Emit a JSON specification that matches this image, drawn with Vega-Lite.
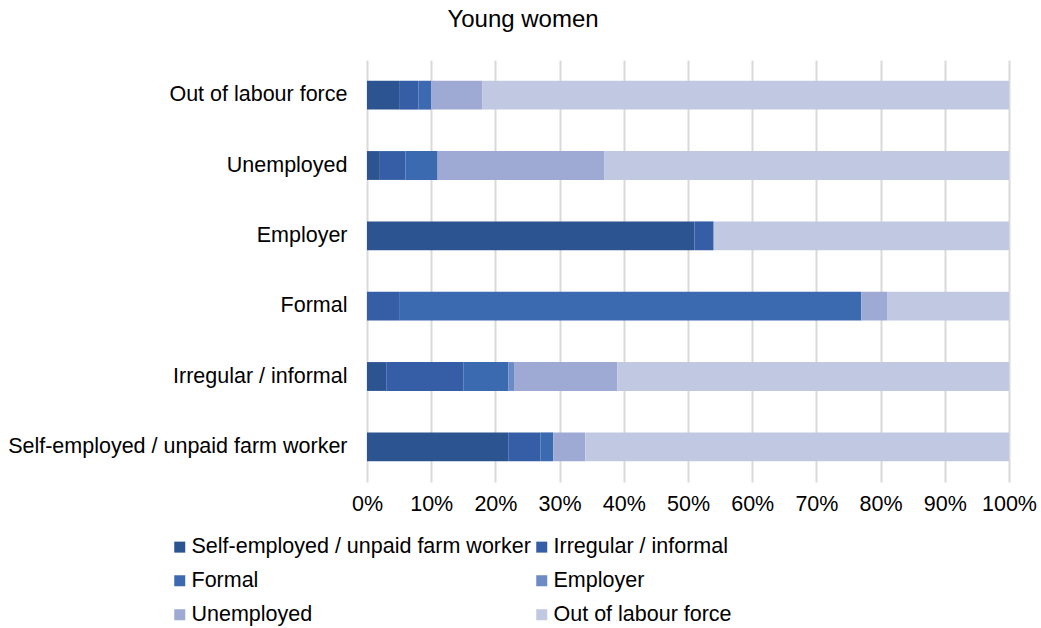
{
  "$schema": "https://vega.github.io/schema/vega-lite/v6.json",
  "autosize": {"type": "none"},
  "width": 642,
  "height": 422,
  "padding": {"left": 367, "top": 60, "right": 32, "bottom": 146},
  "background": "white",
  "title": {
    "text": "Young women",
    "font": "Liberation Sans",
    "fontSize": 24,
    "fontWeight": "normal",
    "color": "#000000",
    "anchor": "middle",
    "dx": -165,
    "offset": 28
  },
  "config": {
    "view": {"stroke": null},
    "font": "Liberation Sans"
  },
  "data": {
    "values": [
      {"cat": "Out of labour force", "status": "Self-employed / unpaid farm worker", "rank": 1, "pct": 5},
      {"cat": "Out of labour force", "status": "Irregular / informal", "rank": 2, "pct": 3},
      {"cat": "Out of labour force", "status": "Formal", "rank": 3, "pct": 2},
      {"cat": "Out of labour force", "status": "Employer", "rank": 4, "pct": 0},
      {"cat": "Out of labour force", "status": "Unemployed", "rank": 5, "pct": 8},
      {"cat": "Out of labour force", "status": "Out of labour force", "rank": 6, "pct": 82},
      {"cat": "Unemployed", "status": "Self-employed / unpaid farm worker", "rank": 1, "pct": 2},
      {"cat": "Unemployed", "status": "Irregular / informal", "rank": 2, "pct": 4},
      {"cat": "Unemployed", "status": "Formal", "rank": 3, "pct": 5},
      {"cat": "Unemployed", "status": "Employer", "rank": 4, "pct": 0},
      {"cat": "Unemployed", "status": "Unemployed", "rank": 5, "pct": 26},
      {"cat": "Unemployed", "status": "Out of labour force", "rank": 6, "pct": 63},
      {"cat": "Employer", "status": "Self-employed / unpaid farm worker", "rank": 1, "pct": 51},
      {"cat": "Employer", "status": "Irregular / informal", "rank": 2, "pct": 3},
      {"cat": "Employer", "status": "Formal", "rank": 3, "pct": 0},
      {"cat": "Employer", "status": "Employer", "rank": 4, "pct": 0},
      {"cat": "Employer", "status": "Unemployed", "rank": 5, "pct": 0},
      {"cat": "Employer", "status": "Out of labour force", "rank": 6, "pct": 46},
      {"cat": "Formal", "status": "Self-employed / unpaid farm worker", "rank": 1, "pct": 0},
      {"cat": "Formal", "status": "Irregular / informal", "rank": 2, "pct": 5},
      {"cat": "Formal", "status": "Formal", "rank": 3, "pct": 72},
      {"cat": "Formal", "status": "Employer", "rank": 4, "pct": 0},
      {"cat": "Formal", "status": "Unemployed", "rank": 5, "pct": 4},
      {"cat": "Formal", "status": "Out of labour force", "rank": 6, "pct": 19},
      {"cat": "Irregular / informal", "status": "Self-employed / unpaid farm worker", "rank": 1, "pct": 3},
      {"cat": "Irregular / informal", "status": "Irregular / informal", "rank": 2, "pct": 12},
      {"cat": "Irregular / informal", "status": "Formal", "rank": 3, "pct": 7},
      {"cat": "Irregular / informal", "status": "Employer", "rank": 4, "pct": 1},
      {"cat": "Irregular / informal", "status": "Unemployed", "rank": 5, "pct": 16},
      {"cat": "Irregular / informal", "status": "Out of labour force", "rank": 6, "pct": 61},
      {"cat": "Self-employed / unpaid farm worker", "status": "Self-employed / unpaid farm worker", "rank": 1, "pct": 22},
      {"cat": "Self-employed / unpaid farm worker", "status": "Irregular / informal", "rank": 2, "pct": 5},
      {"cat": "Self-employed / unpaid farm worker", "status": "Formal", "rank": 3, "pct": 2},
      {"cat": "Self-employed / unpaid farm worker", "status": "Employer", "rank": 4, "pct": 0},
      {"cat": "Self-employed / unpaid farm worker", "status": "Unemployed", "rank": 5, "pct": 5},
      {"cat": "Self-employed / unpaid farm worker", "status": "Out of labour force", "rank": 6, "pct": 66}
    ]
  },
  "mark": {"type": "bar", "strokeWidth": 0},
  "encoding": {
    "y": {
      "field": "cat",
      "type": "nominal",
      "sort": ["Out of labour force", "Unemployed", "Employer", "Formal", "Irregular / informal", "Self-employed / unpaid farm worker"],
      "scale": {"paddingInner": 0.59, "paddingOuter": 0.295},
      "axis": {
        "title": null,
        "domain": false,
        "ticks": false,
        "grid": false,
        "labelFont": "Liberation Sans",
        "labelFontSize": 21.5,
        "labelColor": "#000000",
        "labelPadding": 20,
        "labelLimit": 400
      }
    },
    "x": {
      "field": "pct",
      "type": "quantitative",
      "stack": "zero",
      "scale": {"domain": [0, 100], "nice": false},
      "axis": {
        "title": null,
        "domain": false,
        "ticks": false,
        "grid": true,
        "gridColor": "#d9d9d9",
        "gridWidth": 2,
        "values": [0, 10, 20, 30, 40, 50, 60, 70, 80, 90, 100],
        "labelExpr": "datum.value + '%'",
        "labelFont": "Liberation Sans",
        "labelFontSize": 21.5,
        "labelColor": "#000000",
        "labelPadding": 11,
        "labelFlush": false
      }
    },
    "order": {"field": "rank", "type": "quantitative", "sort": "ascending"},
    "color": {
      "field": "status",
      "type": "nominal",
      "scale": {
        "domain": ["Self-employed / unpaid farm worker", "Irregular / informal", "Formal", "Employer", "Unemployed", "Out of labour force"],
        "range": ["#2c5490", "#365ea6", "#3b6ab0", "#6c8ac4", "#9eaad3", "#c1c9e2"]
      },
      "legend": {
        "title": null,
        "orient": "none",
        "legendX": -198,
        "legendY": 476,
        "direction": "horizontal",
        "columns": 2,
        "columnPadding": 0,
        "rowPadding": 11,
        "symbolType": "square",
        "symbolSize": 121,
        "symbolStrokeWidth": 0,
        "labelOffset": 1,
        "labelFont": "Liberation Sans",
        "labelFontSize": 21.5,
        "labelColor": "#000000",
        "labelLimit": 400
      }
    }
  }
}
